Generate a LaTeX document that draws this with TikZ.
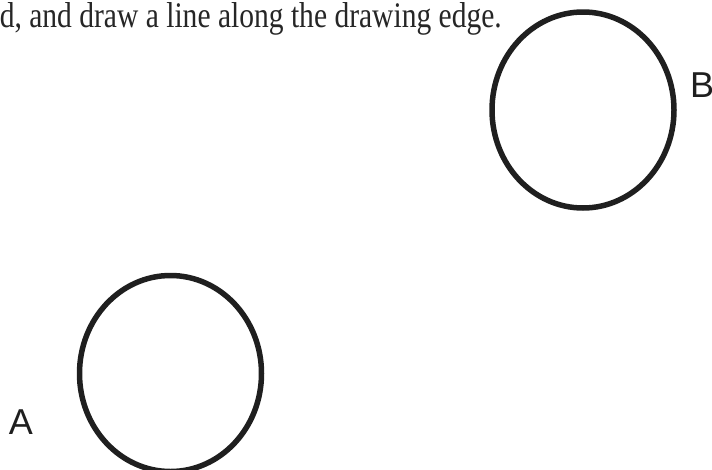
\documentclass[tikz,border=0pt]{standalone}
\usepackage{fontspec}
\usepackage{graphicx}
\setmainfont{Liberation Serif}
\newfontfamily\labelfont{Liberation Sans}
\usetikzlibrary{shapes.geometric}
\begin{document}
\begin{tikzpicture}[x=1pt,y=-1pt,
  ring/.style={ellipse,draw,line width=5.5pt,inner sep=0pt,minimum width=182pt,minimum height=196pt,color=black!88},
  lbl/.style={font=\labelfont\fontsize{36}{40}\selectfont,inner sep=0pt,text=black!88},
  caption/.style={font=\fontsize{36}{40}\selectfont,inner sep=0pt,text=black!85}]
\useasboundingbox (0,0) rectangle (712,469);
\clip (0,0) rectangle (712,469);
\node[caption,anchor=base east] (cap) at (502,27) {\resizebox{502pt}{\height}{d, and draw a line along the drawing edge.}};
\node[ring] (circB) at (583,110) {};
\node[ring] (circA) at (170.5,373.5) {};
\node[lbl,anchor=west] (labB) at (690,85) {B};
\node[lbl,anchor=center] (labA) at (21,422) {A};
\end{tikzpicture}
\end{document}
